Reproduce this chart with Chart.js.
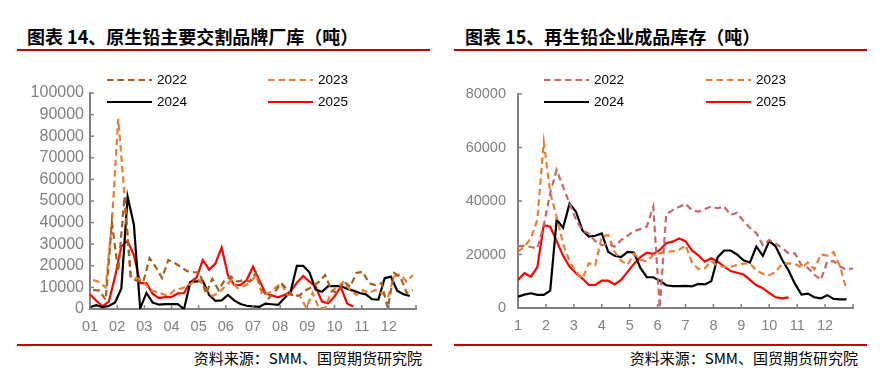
<!DOCTYPE html>
<html><head><meta charset="utf-8">
<script src="https://cdn.jsdelivr.net/npm/chart.js@4/dist/chart.umd.min.js"></script>
<style>
body{margin:0;width:884px;height:381px;background:#fff;position:relative;overflow:hidden;font-family:"Liberation Sans",Arial,sans-serif}
.title{position:absolute;top:24px;font-family:"Noto Sans CJK SC";font-weight:700;font-size:18px;line-height:24px;color:#000;white-space:nowrap}
.rule{position:absolute;height:2px;background:#C00000}
.src{position:absolute;top:349px;font-family:"Noto Sans CJK SC";font-size:15px;line-height:18px;white-space:nowrap;color:#000}
canvas{position:absolute;top:60px}
.leg{position:absolute;font-size:13.5px;line-height:16px;color:#000;white-space:nowrap;display:flex;align-items:center}
.leg svg{margin-right:5px}
</style></head>
<body>
<div class="title" style="left:27px">图表 14、原生铅主要交割品牌厂库（吨）</div>
<div class="rule" style="left:17px;width:413px;top:49px"></div>
<div class="title" style="left:465px">图表 15、再生铅企业成品库存（吨）</div>
<div class="rule" style="left:454px;width:413px;top:49px"></div>
<canvas id="c1" width="440" height="280" style="left:0;width:440px;height:280px"></canvas>
<canvas id="c2" width="442" height="280" style="left:442px;width:442px;height:280px"></canvas>
<div class="rule" style="left:17px;width:415px;top:344px"></div>
<div class="rule" style="left:454px;width:413px;top:344px"></div>
<div class="src" style="right:462px">资料来源：SMM、国贸期货研究院</div>
<div class="src" style="right:26px">资料来源：SMM、国贸期货研究院</div>
<script>
// ---------- Data ----------
const monthLabelsLeft = ['01','02','03','04','05','06','07','08','09','10','11','12'];
const monthLabelsRight = ['1','2','3','4','5','6','7','8','9','10','11','12'];
const weeksPerYear = 52;

// 图表14 原生铅主要交割品牌厂库（吨），weekly
const brand2022 = [8800,8500,4200,40000,17300,52000,14800,13000,12500,23600,19400,14300,22700,21300,19500,17500,17100,17000,7000,14000,8800,13400,15000,12700,13400,12700,16700,8800,5000,8000,12000,8800,5700,6500,8800,10300,12500,15700,8800,7400,12700,10300,16700,17300,12000,11100,12000,400,16700,15000,7400,8800];
const brand2023 = [13400,12500,10000,40000,88000,53000,15000,14300,13000,8800,8000,7000,6000,8800,9500,10500,12500,13400,9000,6000,7400,10300,13400,9700,10600,12000,15700,6500,7400,9700,12000,6500,6500,6000,400,7500,400,400,8000,10300,12700,8800,6500,8800,7400,8800,7400,5000,15000,16000,12700,15700];
const brand2024 = [800,1800,900,1400,3000,9500,52000,39000,300,7400,3000,2000,2300,2300,2300,0,12300,12800,13000,6500,3800,4000,6500,4000,2300,1500,1200,1000,2500,2200,1900,5000,8000,20000,20000,17000,9000,8000,10600,10600,10600,9400,8500,7400,6800,4500,4300,14300,15000,8500,6800,6000];
const brand2025 = [6800,3800,1200,3400,15000,29000,31500,25000,12000,12000,7000,5000,5500,5600,7200,7400,12500,14500,22700,18200,21000,28500,15700,11100,11100,13400,19600,13400,7200,6300,5400,6500,8000,12200,15300,12700,10300,3400,2600,5700,10300,2600,1100];
const weekOffsetLeft = {2022:0.5, 2023:0.5, 2024:0, 2025:0};

// 图表15 再生铅企业成品库存（吨），weekly
const recycled2022 = [23000,23300,22800,22300,31000,43000,51600,45400,39100,33000,29000,27800,25000,23500,24000,22900,25400,27000,28800,29500,30500,37900,0,35000,36600,37800,38900,36600,36000,37000,37900,37300,37900,34800,35600,32500,30000,28000,23500,25400,24000,22500,20400,20400,16000,15000,12500,10500,17300,17500,15500,14300,14800];
const recycled2023 = [21000,23000,26000,33000,62000,43000,34000,24000,17500,13500,11000,16700,16000,26700,27300,21000,17700,16100,20400,18000,17500,19800,20400,21000,21200,21700,23500,17000,14500,14800,17500,15800,15400,15400,16100,16600,16700,14000,12800,12300,13600,16500,16700,16500,15000,17000,14500,20000,19600,20800,15500,6700];
const recycled2024 = [4200,5000,5500,4900,4900,6500,33000,30000,39000,36000,29000,26700,27000,27900,21000,19500,19000,21000,20700,15000,11500,11500,10200,8500,8200,8200,8300,8100,9000,8800,10000,19000,21500,21500,20000,17800,17000,23000,19500,25000,23000,18000,14000,9000,5000,5400,4000,3600,4800,3400,3200,3200];
const recycled2025 = [10500,13000,11700,15300,31000,30400,25000,19500,15500,13000,11000,8600,8600,10200,10200,8800,10500,13500,16500,19000,20700,20200,21700,24200,24800,26000,25000,21500,19700,17300,18600,17300,15500,13800,13200,12500,10500,8500,7400,5600,4000,3600,4000];

const leftTicks = {max:100000, step:10000};
const rightTicks = {max:80000, step:20000};

// ---------- Styles ----------
const C2022L = '#A85D1E', C2023 = '#ED7D31', C2022R = '#C96767', C2024 = '#000000', C2025 = '#FF0000';
const DASH = [6.5, 4];

function toPoints(vals, off){ return vals.map((v,i)=>({x:(i+off)*12/weeksPerYear, y:v})); }
function ds(label, vals, off, color, dash){
  return {label, data:toPoints(vals, off), borderColor:color, backgroundColor:color,
    borderWidth:2.2, borderDash:dash||[], pointRadius:0, tension:0, fill:false};
}

const innerTicks = {
  id:'innerTicks',
  afterDraw(chart){
    const ctx = chart.ctx, a = chart.chartArea;
    ctx.save(); ctx.strokeStyle='#808080'; ctx.lineWidth=1.5;
    const xs = chart.scales.x, ys = chart.scales.y;
    xs.ticks.forEach(t=>{ const p = xs.getPixelForValue(t.value); ctx.beginPath(); ctx.moveTo(p, a.bottom); ctx.lineTo(p, a.bottom-4); ctx.stroke(); });
    ys.ticks.forEach(t=>{ const p = ys.getPixelForValue(t.value); ctx.beginPath(); ctx.moveTo(a.left, p); ctx.lineTo(a.left+4, p); ctx.stroke(); });
    ctx.restore();
  }
};

function makeChart(id, datasets, labels, yt, cfg){
  return new Chart(document.getElementById(id), {
    type:'line',
    data:{datasets},
    plugins:[innerTicks],
    options:{
      responsive:false, animation:false, devicePixelRatio:1,
      layout:{padding:{top:cfg.top, right:cfg.right, left:0, bottom:0}},
      plugins:{legend:{display:false}, tooltip:{enabled:false}},
      scales:{
        x:{type:'linear', min:0, max:12,
          grid:{display:false, drawTicks:false},
          border:{display:true, color:'#808080', width:2},
          afterFit(s){ s.height = cfg.xh; },
          afterBuildTicks(s){ s.ticks = labels.map((_,k)=>({value:k})).concat([{value:12}]); },
          ticks:{autoSkip:false, maxRotation:0, padding:cfg.xpad, color:'#808080',
            font:{family:'"Liberation Sans", Arial', size:cfg.xfont},
            callback:(v)=> labels[v] !== undefined ? labels[v] : ''}
        },
        y:{min:0, max:yt.max,
          grid:{display:false, drawTicks:false},
          border:{display:true, color:'#808080', width:2},
          afterFit(s){ s.width = cfg.yw; },
          ticks:{stepSize:yt.step, autoSkip:false, padding:cfg.ypad, color:'#808080',
            font:{family:'"Liberation Sans", Arial', size:cfg.yfont},
            callback:(v)=> String(v)}
        }
      }
    }
  });
}

makeChart('c1', [
  ds('2022', brand2022, weekOffsetLeft[2022], C2022L, DASH),
  ds('2023', brand2023, weekOffsetLeft[2023], C2023, DASH),
  ds('2024', brand2024, weekOffsetLeft[2024], C2024),
  ds('2025', brand2025, weekOffsetLeft[2025], C2025)
], monthLabelsLeft, leftTicks, {top:33, right:24, xh:31, yw:90, xpad:9, ypad:6, xfont:14.5, yfont:16});

makeChart('c2', [
  ds('2022', recycled2022, 0, C2022R, DASH),
  ds('2023', recycled2023, 0, C2023, DASH),
  ds('2024', recycled2024, 0, C2024),
  ds('2025', recycled2025, 0, C2025)
], monthLabelsRight, rightTicks, {top:34, right:31, xh:32, yw:76, xpad:9, ypad:12, xfont:14.5, yfont:14.5});

// ---------- HTML legends ----------
function legend(x, y, label, color, dash){
  const d = document.createElement('div');
  d.className = 'leg';
  d.style.left = x + 'px'; d.style.top = (y-8) + 'px';
  d.innerHTML = '<svg width="45" height="4"><line x1="0" y1="2" x2="45" y2="2" stroke="'+color+'" stroke-width="2.2"'+(dash?' stroke-dasharray="6.5,4"':'')+'/></svg><span>'+label+'</span>';
  document.body.appendChild(d);
}
legend(107, 80, '2022', C2022L, true);
legend(268, 80, '2023', C2023, true);
legend(107, 102, '2024', C2024, false);
legend(268, 102, '2025', C2025, false);
legend(544, 80, '2022', C2022R, true);
legend(706, 80, '2023', C2023, true);
legend(544, 102, '2024', C2024, false);
legend(706, 102, '2025', C2025, false);
</script>
</body></html>
